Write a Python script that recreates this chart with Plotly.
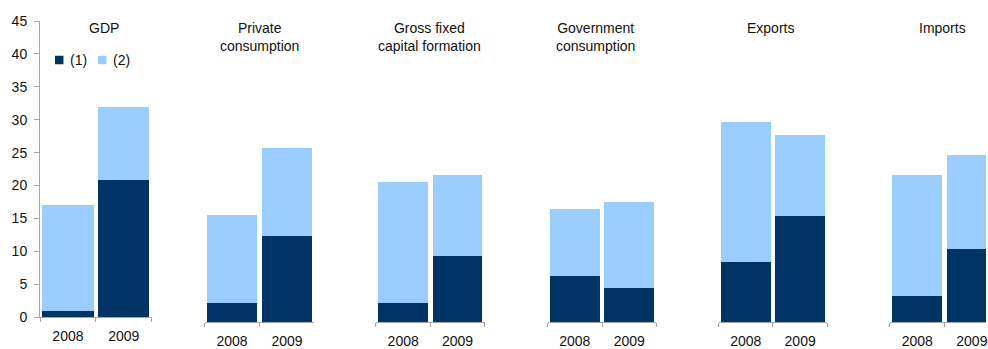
import plotly.graph_objects as go

# ---- data ----
panels = ["GDP", "Private<br>consumption", "Gross fixed<br>capital formation",
          "Government<br>consumption", "Exports", "Imports"]
years = ["2008", "2009"]
series_names = ["(1)", "(2)"]
series1 = [[1.0, 20.9], [2.9, 13.1], [2.9, 10.1], [7.0, 5.1], [9.1, 16.1], [4.0, 11.1]]
series2 = [[16.1, 11.1], [13.4, 13.3], [18.4, 12.3], [10.2, 13.2], [21.3, 12.3], [18.4, 14.3]]
yticks = list(range(0, 50, 5))
colors = ["#003366", "#99ccff"]

# ---- layout geometry (pixels) ----
W, H = 988, 349
L, R = 40, 0
TOP, BASE2 = 21, 322.3
BASE1 = 317.5
PW = W - L - R
PH = BASE2 - TOP


def px_x(p):
    return (p - L) / PW


def px_y(p):
    return (BASE2 - p) / PH


panel_left = [40, 205, 376.7, 548.7, 720, 891.7]
panel_w = [112, 110, 109, 109, 109, 109.5]
title_x = [104, 260, 430, 597, 772, 944]

fig = go.Figure()
font = dict(family="Liberation Sans, Arial, sans-serif", size=14, color="#111111")
axis_grey = "#a6a6a6"

layout = dict(
    width=W, height=H,
    margin=dict(l=L, r=R, t=TOP, b=H - BASE2, pad=0),
    paper_bgcolor="white", plot_bgcolor="white",
    barmode="stack", bargap=0.085,
    showlegend=False, font=font,
    yaxis=dict(range=[0, 45], domain=[px_y(BASE1), 1], tickvals=yticks,
               showline=True, linecolor=axis_grey, linewidth=1,
               ticks="outside", ticklen=5, tickcolor=axis_grey,
               showgrid=False, zeroline=False, anchor="x",
               ticklabelstandoff=4, tickfont=font),
    yaxis2=dict(range=[0, 45], domain=[0, px_y(BASE2 - (BASE1 - TOP))],
                visible=False, anchor="x2"),
)

for i in range(len(panels)):
    xa = "x" if i == 0 else f"x{i+1}"
    ya = "y" if i == 0 else "y2"
    left = panel_left[i]
    right = min(left + panel_w[i], W - R)
    per_cat = panel_w[i] / 2
    rng_end = -0.5 + (right - left) / per_cat
    for s, vals in enumerate([series1[i], series2[i]]):
        fig.add_trace(go.Bar(x=years, y=vals, name=series_names[s],
                             marker=dict(color=colors[s], line=dict(width=0)),
                             xaxis=xa, yaxis=ya, showlegend=False))
    key = "xaxis" if i == 0 else f"xaxis{i+1}"
    layout[key] = dict(domain=[px_x(left), px_x(right)], anchor=ya,
                       type="category", range=[-0.5, rng_end],
                       showline=True, linecolor=axis_grey, linewidth=1,
                       ticks="outside", ticklen=4, tickcolor=axis_grey,
                       tickson="boundaries", showgrid=False, zeroline=False,
                       ticklabelstandoff=6, tickfont=font)

fig.update_layout(**layout)

# panel titles
for i, t in enumerate(panels):
    fig.add_annotation(text=t, x=px_x(title_x[i]), y=px_y(18), xref="paper", yref="paper",
                       xanchor="center", yanchor="top", showarrow=False, font=font,
                       align="center")

# legend (manual)
leg_sq = [(55, 63.5), (98, 106.5)]
leg_txt = [68, 111]
for s in range(2):
    x0, x1 = leg_sq[s]
    fig.add_shape(type="rect", xref="paper", yref="paper",
                  x0=px_x(x0), x1=px_x(x1), y0=px_y(64.3), y1=px_y(55.8),
                  fillcolor=colors[s], line=dict(width=0))
    fig.add_annotation(text=series_names[s], x=px_x(leg_txt[s]), y=px_y(60),
                       xref="paper", yref="paper", xanchor="left", yanchor="middle",
                       showarrow=False, font=font)

fig.write_html("out.html")
